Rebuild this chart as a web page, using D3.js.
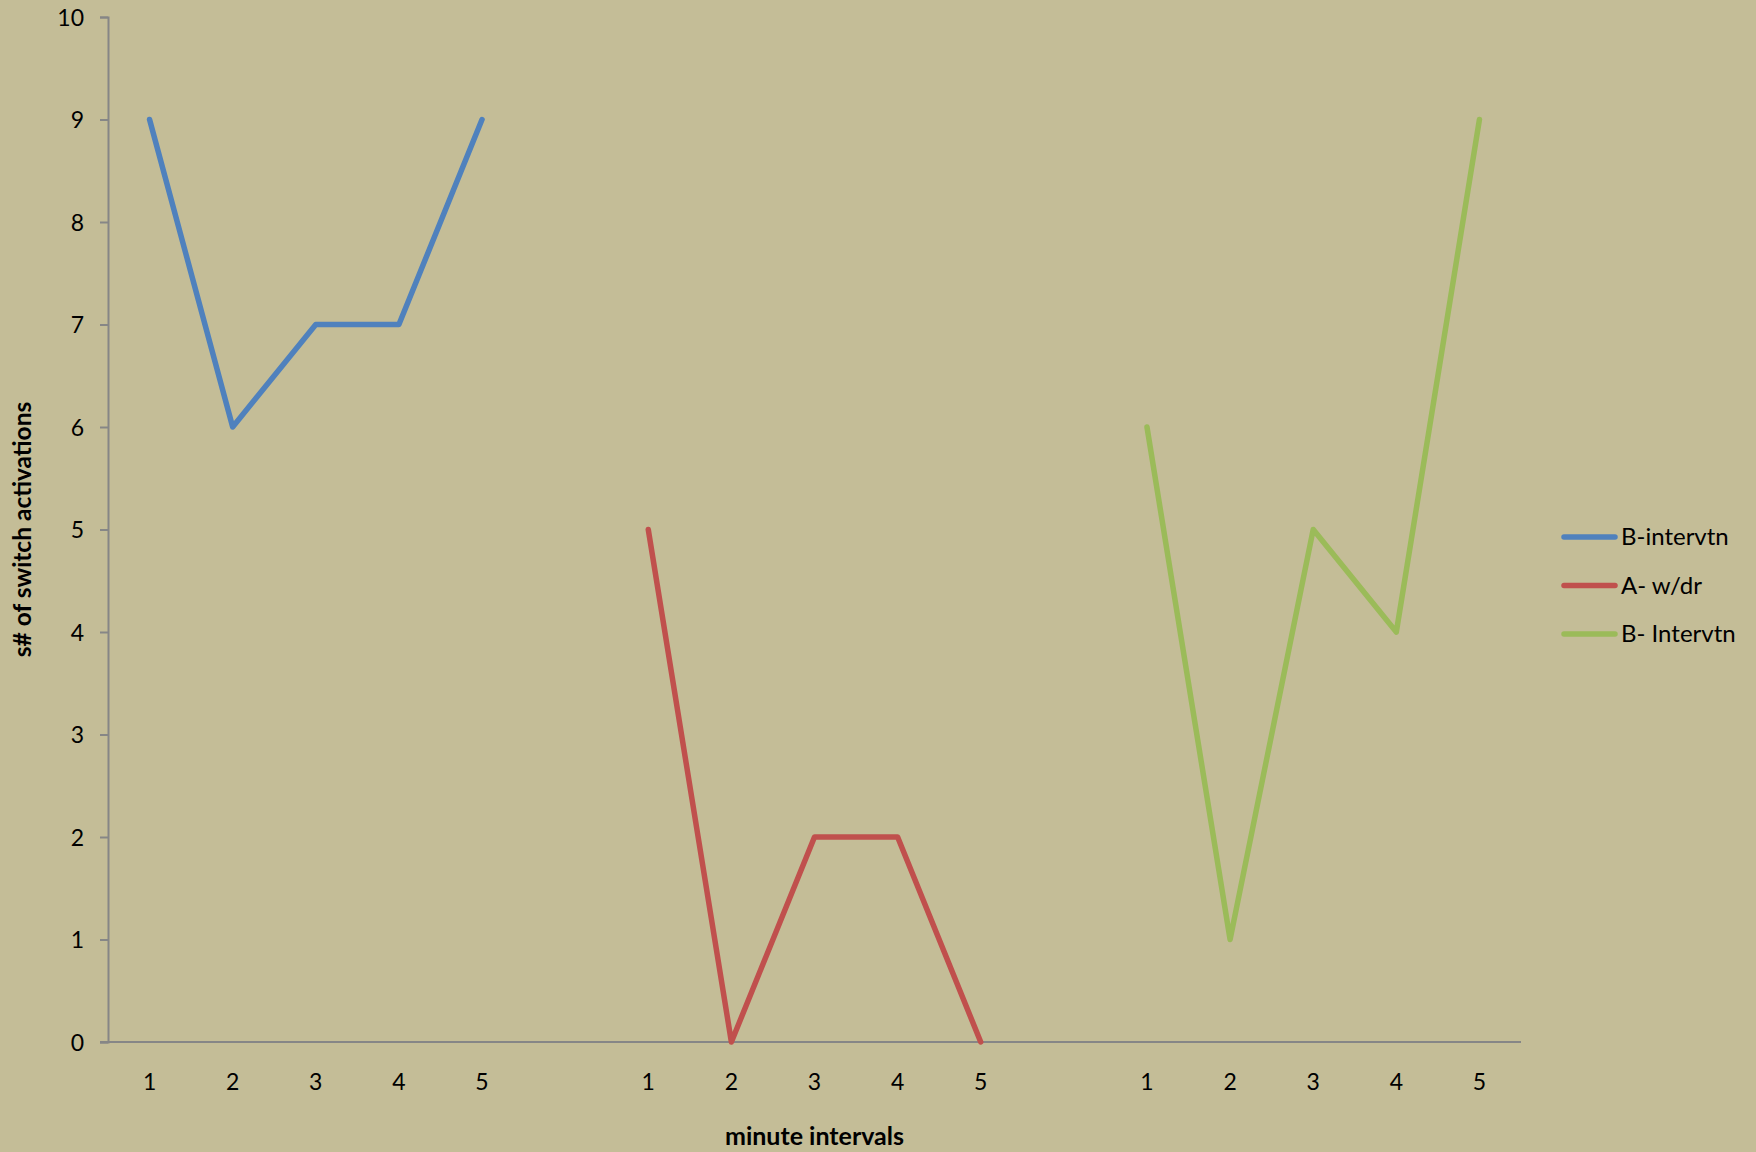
<!DOCTYPE html>
<html><head><meta charset="utf-8">
<script src="https://cdn.jsdelivr.net/npm/d3@7"></script>
<style>
html,body{margin:0;padding:0;background:#C4BD97;}
svg{display:block;}
text{font-family:Lato, "Open Sans", sans-serif;fill:#000;}
</style></head>
<body>
<svg id="chart" width="1756" height="1152"></svg>
<script>
// Data
const categories = ["1","2","3","4","5","","1","2","3","4","5","","1","2","3","4","5"];
const seriesNames = ["B-intervtn", "A- w/dr", "B- Intervtn"];
const seriesColors = ["#4F81BD", "#C0504D", "#9BBB59"];
const seriesStart = [0, 6, 12];
const seriesValues = [
  [9, 6, 7, 7, 9],
  [5, 0, 2, 2, 0],
  [6, 1, 5, 4, 9]
];
const yTicks = [0,1,2,3,4,5,6,7,8,9,10];
const xTitle = "minute intervals";
const yTitle = "s# of switch activations";

const svg = d3.select("#chart");
const W = 1756, H = 1152;
const m = {left:108, right:W-1521, top:17, bottom:H-1042};

const keys = categories.map((c,i)=> i + "|" + c);
const x = d3.scaleBand().domain(keys).range([m.left, W - m.right]).paddingInner(0).paddingOuter(0);
const y = d3.scaleLinear().domain([0,10]).range([H - m.bottom, m.top]);

// y axis
const yAxis = svg.append("g").attr("transform", `translate(${m.left},0)`)
  .call(d3.axisLeft(y).tickValues(yTicks).tickSize(8).tickPadding(16).tickFormat(d3.format("d")));
yAxis.select(".domain").attr("stroke","#868686").attr("stroke-width",2);
yAxis.selectAll(".tick line").attr("stroke","#868686").attr("stroke-width",2);
yAxis.selectAll(".tick text").attr("font-size",23).attr("font-family","Lato, sans-serif").attr("fill","#000").attr("dy","0.35em");

// x axis
const xAxis = svg.append("g").attr("transform", `translate(0,${H - m.bottom})`)
  .call(d3.axisBottom(x).tickSize(0).tickPadding(32).tickFormat(k => k.split("|")[1]));
xAxis.select(".domain").attr("stroke","#868686").attr("stroke-width",2).attr("d", `M${m.left-8},0H${W-m.right}`);
xAxis.selectAll(".tick text").attr("font-size",23).attr("font-family","Lato, sans-serif").attr("fill","#000");

// lines
const line = d3.line().x(d => x(d.k) + x.bandwidth()/2).y(d => y(d.v));
seriesValues.forEach((vals, si) => {
  const pts = vals.map((v,i) => ({k: keys[seriesStart[si]+i], v}));
  svg.append("path").datum(pts)
    .attr("d", line)
    .attr("fill","none")
    .attr("stroke", seriesColors[si])
    .attr("stroke-width", 5.5)
    .attr("stroke-linecap","round")
    .attr("stroke-linejoin","round");
});

// axis titles
svg.append("text").attr("x", (m.left + W - m.right)/2).attr("y", 1136).attr("dy","0.35em")
  .attr("text-anchor","middle").attr("font-weight","bold").attr("font-size",25).text(xTitle);
svg.append("text").attr("transform", `translate(22,${(m.top + H - m.bottom)/2}) rotate(-90)`).attr("dy","0.35em")
  .attr("text-anchor","middle").attr("font-weight","bold").attr("font-size",24.5).text(yTitle);

// legend
const lg = svg.append("g");
seriesNames.forEach((n, i) => {
  const yy = 537 + i*48.5;
  lg.append("line").attr("x1",1564).attr("x2",1615).attr("y1",yy).attr("y2",yy)
    .attr("stroke", seriesColors[i]).attr("stroke-width",5.5).attr("stroke-linecap","round");
  lg.append("text").attr("x",1621).attr("y",yy).attr("dy","0.35em").attr("font-size",24).text(n);
});
</script>
</body></html>
